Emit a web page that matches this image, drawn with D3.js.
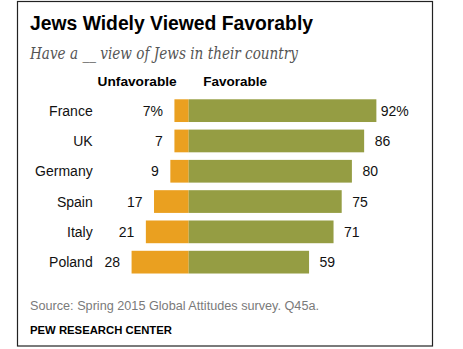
<!DOCTYPE html>
<html><head><meta charset="utf-8">
<script src="https://cdn.jsdelivr.net/npm/d3@7"></script>
<style>body{margin:0;background:#fff}svg{display:block}</style>
</head><body>
<script>
const countries = ["France","UK","Germany","Spain","Italy","Poland"];
const unfavorable = [7,7,9,17,21,28];
const favorable = [92,86,80,75,71,59];

const W = 463, H = 349;
const svg = d3.select("body").append("svg").attr("width", W).attr("height", H);

svg.append("rect").attr("x",17.5).attr("y",1.5).attr("width",415).attr("height",344.5)
  .attr("fill","none").attr("stroke","#222").attr("stroke-width",1.2);

const x = d3.scaleLinear().domain([-40,100]).range([188.7-81.6, 188.7+204]);
const y = d3.scaleBand().domain(countries).range([95.5, 277.3]).paddingInner(0.25).paddingOuter(0.125);

const font = "'Liberation Sans', Arial, sans-serif";

svg.append("text").attr("x",30).attr("y",30).attr("font-family",font).attr("font-weight","bold")
  .attr("font-size",19.5).attr("fill","#000").attr("textLength",283).attr("lengthAdjust","spacingAndGlyphs")
  .text("Jews Widely Viewed Favorably");

svg.append("text").attr("x",30).attr("y",59).attr("font-family","'DejaVu Serif', 'Liberation Serif', serif")
  .attr("font-style","italic").attr("font-size",16.8).attr("fill","#555")
  .attr("textLength",268).attr("lengthAdjust","spacingAndGlyphs")
  .text("Have a __ view of Jews in their country");

svg.append("text").attr("x",x(0)-12).attr("y",86).attr("text-anchor","end").attr("font-family",font)
  .attr("font-weight","bold").attr("font-size",13.7).attr("fill","#000").text("Unfavorable");
svg.append("text").attr("x",x(0)+14.6).attr("y",86).attr("font-family",font)
  .attr("font-weight","bold").attr("font-size",13.5).attr("fill","#000").text("Favorable");

const rows = countries.map((c,i)=>({c, u:unfavorable[i], f:favorable[i], i}));

const g = svg.append("g");
g.selectAll("rect.u").data(rows).join("rect").attr("class","u")
  .attr("x",d=>x(-d.u)).attr("width",d=>x(0)-x(-d.u))
  .attr("y",d=>y(d.c)).attr("height",y.bandwidth()).attr("fill","#EAA020");
g.selectAll("rect.f").data(rows).join("rect").attr("class","f")
  .attr("x",x(0)).attr("width",d=>x(d.f)-x(0))
  .attr("y",d=>y(d.c)).attr("height",y.bandwidth()).attr("fill","#959D43");

g.selectAll("text.c").data(rows).join("text").attr("class","c")
  .attr("x",92.7).attr("y",d=>y(d.c)+y.bandwidth()/2).attr("dy","0.36em")
  .attr("text-anchor","end").attr("font-family",font).attr("font-size",14).attr("fill","#111")
  .text(d=>d.c);

g.selectAll("text.uv").data(rows).join("text").attr("class","uv")
  .attr("x",d=>x(-d.u)-11.5).attr("y",d=>y(d.c)+y.bandwidth()/2).attr("dy","0.36em")
  .attr("text-anchor","end").attr("font-family",font).attr("font-size",14).attr("fill","#111")
  .text(d=>d.i===0 ? d.u+"%" : d.u);

g.selectAll("text.fv").data(rows).join("text").attr("class","fv")
  .attr("x",d=>x(d.f)+18.3).attr("y",d=>y(d.c)+y.bandwidth()/2).attr("dy","0.36em")
  .attr("text-anchor","middle").attr("font-family",font).attr("font-size",14).attr("fill","#111")
  .text(d=>d.i===0 ? d.f+"%" : d.f);

svg.append("text").attr("x",30).attr("y",309.5).attr("font-family",font).attr("font-size",12.5)
  .attr("fill","#7a7a7a").attr("textLength",289).attr("lengthAdjust","spacingAndGlyphs")
  .text("Source: Spring 2015 Global Attitudes survey. Q45a.");

svg.append("text").attr("x",30).attr("y",333.5).attr("font-family",font).attr("font-weight","bold")
  .attr("font-size",11.8).attr("fill","#000").attr("textLength",142).attr("lengthAdjust","spacingAndGlyphs")
  .text("PEW RESEARCH CENTER");
</script>
</body></html>
